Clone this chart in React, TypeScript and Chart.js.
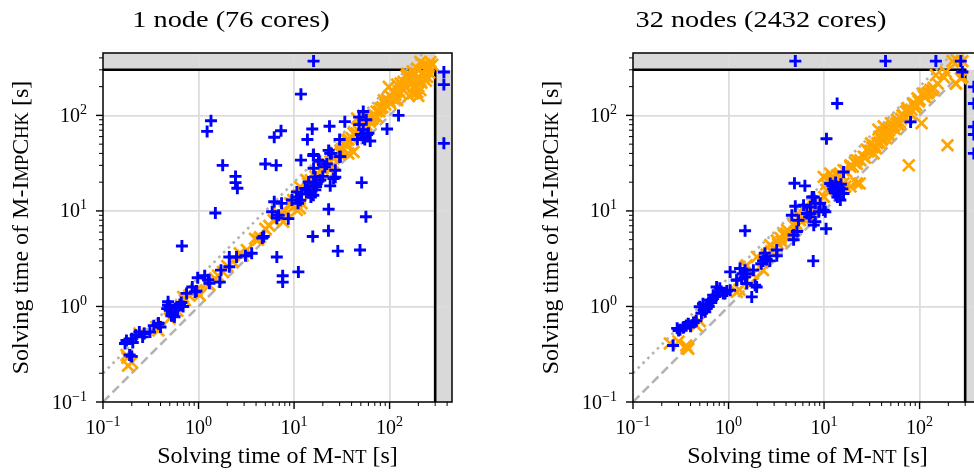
import React, { useEffect, useRef } from "react";
import { Chart, registerables } from "chart.js";

Chart.register(...registerables);

// ---------- data ----------
const AXIS_MIN = 0.1;
const AXIS_MAX = 450;
const TIMEOUT = 300;
const decadeExponents = [-1, 0, 1, 2];
const minorMultipliers = [2, 3, 4, 5, 6, 7, 8, 9];
const panelTitles = ["1 node (76 cores)", "32 nodes (2432 cores)"];

type P = [number, number];

const leftBlue: P[] = [
  [16, 370], [370, 285], [370, 210], [370, 51],
  [11.8, 167], [124, 100], [94, 72], [1.35, 88], [1.23, 68], [1.79, 30], [2.44, 23], [2.44, 19.8], [2.55, 17.3],
  [1.5, 9.5], [0.67, 4.3], [5.0, 31], [6.5, 30], [6.2, 59], [7.3, 69], [6.6, 3.3], [7.6, 2.1], [7.6, 1.8],
  [11.1, 2.3], [15.7, 5.4], [22.9, 6.2], [23, 10.4], [28.7, 3.8], [49, 3.9], [51, 19.8], [56.5, 8.7], [62.7, 54],
  [23.5, 77], [34, 86], [13.8, 56], [15.5, 72], [11.8, 34], [16, 39], [18.4, 33], [16, 28], [30, 56], [30, 37],
  [23.9, 40], [23.9, 18.3], [27, 22.5], [21, 29],
  [48, 96], [53, 110], [57, 90], [48, 80], [53, 71], [50, 63], [58, 63], [55, 56], [46, 56], [60, 65], [53, 58],
  [9.5, 13], [10.7, 14], [13.6, 16.6], [15, 14], [16, 19.5], [16.7, 16.6], [18.8, 21], [20, 23], [14.5, 15.5],
  [11, 12], [12, 15], [17, 18], [10.7, 15.8], [11.6, 12.9], [13.1, 17.2], [15.9, 14.6], [14.2, 20.1], [16.6, 22.7],
  [17.3, 19.4], [22, 31], [25.9, 21.8], [27, 26.7], [15.9, 38], [18, 34], [24.6, 40], [30.5, 37], [23, 43],
  [6.2, 12.5], [7.4, 12], [5.9, 9.8], [6.9, 9], [8.7, 8.3], [6.6, 8.4],
  [4.65, 5.2], [4.8, 5.4], [3.6, 3.6], [3.1, 3.4], [2.5, 3.3], [2.1, 2.6], [2.1, 3.3],
  [1.72, 2.4], [1.67, 1.8], [1.26, 1.9], [1.16, 2.1], [1.3, 1.75], [0.98, 2.0],
  [0.86, 1.6], [0.95, 1.45], [0.75, 1.37], [0.92, 1.42], [0.66, 1.1], [0.69, 1.0], [0.6, 0.92],
  [0.48, 1.12], [0.5, 1.0], [0.54, 0.88], [0.56, 0.78], [0.52, 0.8], [0.6, 0.95], [0.47, 0.95], [0.64, 1.05],
  [0.55, 0.92], [0.48, 1.03], [0.5, 0.91], [0.57, 0.95], [0.54, 0.81],
  [0.38, 0.67], [0.34, 0.63], [0.4, 0.61], [0.38, 0.66],
  [0.27, 0.52], [0.22, 0.5], [0.24, 0.54], [0.2, 0.46], [0.26, 0.48], [0.31, 0.54],
  [0.176, 0.44], [0.205, 0.42], [0.17, 0.41], [0.19, 0.31], [0.2, 0.3],
];

const leftOrange: P[] = [
  [0.176, 0.31], [0.183, 0.24], [0.2, 0.26], [0.18, 0.29], [0.38, 0.56], [0.69, 1.26], [1.03, 1.31],
  [0.24, 0.52], [0.36, 0.61], [0.5, 0.75], [0.72, 1.16], [0.8, 1.3], [0.6, 0.9],
  [0.95, 1.48], [1.22, 1.74], [1.49, 1.96], [1.3, 1.67], [1.6, 2.1], [1.8, 2.3], [2.0, 2.65], [2.3, 2.95],
  [2.7, 3.6], [2.9, 3.4], [3.2, 3.9], [3.9, 5.1], [4.4, 5.3], [4.2, 5.0], [5, 6.5], [5.5, 7], [7, 9.3], [8, 10],
  [6.1, 8.0], [6.9, 8.7], [7.7, 7.7], [8.4, 9.4], [10.7, 10.2], [9.5, 11.9], [11.1, 14.6], [11.6, 17.8],
  [13.6, 20.9], [17.3, 22.7], [19.6, 27.8], [22, 31], [25.9, 35.4], [30.5, 40], [37, 40], [42, 41.5],
  [25.9, 24.6], [11.5, 10.7], [12, 12], [10.6, 11.6], [9.1, 12], [9.8, 13], [14, 19.5], [16.7, 23], [12.5, 16],
  [15, 21], [18, 24], [20, 28], [24, 33], [27, 38], [32, 45], [36, 50], [40, 58], [44, 62], [48, 68],
  [52, 72], [57, 80], [62, 86], [66, 92], [70, 100], [78, 110], [84, 122], [90, 130], [100, 140],
  [108, 150], [115, 165], [125, 180], [135, 190], [140, 225], [160, 250], [185, 270], [220, 280],
  [255, 330], [280, 340], [230, 340], [185, 230], [215, 220], [240, 230], [260, 280], [195, 175], [170, 215],
  [25.9, 30], [30.5, 43], [35.8, 55], [42, 65], [45.6, 93], [53, 100], [49, 76], [58, 73], [63, 89],
  [80, 118], [87, 144], [98, 199], [110, 176], [120, 144], [130, 216], [153, 275], [165, 234], [194, 310],
  [210, 363], [268, 363], [238, 297], [179, 199], [202, 234], [247, 253], [210, 184], [130, 170], [102, 133],
  [74, 96], [34.5, 49], [37, 56], [45, 65], [55, 77], [68, 97], [73, 110], [150, 260], [175, 290], [190, 200],
  [175, 170], [230, 260], [200, 160], [160, 160], [145, 200], [120, 210], [94, 146], [102, 159],
];

const rightBlue: P[] = [
  [5.0, 370], [44, 370], [148, 370], [270, 370], [280, 285],
  [370, 199], [370, 133], [370, 76], [370, 63], [370, 40],
  [13.7, 133], [10.6, 57], [80.5, 85.5], [16, 25.6], [4.9, 19.5], [6.3, 18.3], [1.49, 6.2], [7.7, 3.0],
  [10.5, 6.5], [1.75, 1.26], [1.97, 1.6],
  [11.6, 19.4], [12.5, 17], [13, 15.5], [13.5, 18], [14, 16.5], [14.5, 17.5], [15, 19], [16, 15.2],
  [13.8, 14], [12.8, 16.2], [14.8, 13], [15.5, 17], [12.2, 18.3], [13.2, 19.8],
  [5.0, 11.2], [7.5, 14], [6.1, 11.5], [4.6, 9.0], [5.4, 8.0], [7.2, 9.4], [8.1, 7.7], [10.3, 9.8],
  [7.8, 14], [7.2, 11], [8.1, 12], [9.1, 12], [9.9, 10.2], [6.6, 9.4], [7, 8.7], [7.8, 7.1], [8.8, 9.8],
  [4.8, 5.6], [5.2, 6.1], [4.8, 5.0],
  [2.4, 3.6], [2.3, 3.0], [2.7, 3.0], [3.2, 3.4], [2.5, 3.1], [2.2, 2.8], [3.2, 3.9], [2.4, 3.3],
  [1.04, 2.3], [1.32, 2.5], [1.22, 1.88], [1.49, 2.04], [1.55, 1.74], [1.9, 1.67], [1.37, 1.95],
  [1.55, 2.2], [1.22, 1.9], [1.49, 2.4], [1.82, 2.4], [1.4, 2.2],
  [0.75, 1.6], [0.88, 1.37], [0.69, 1.31], [0.81, 1.55], [0.96, 1.45], [0.92, 1.37], [0.81, 1.42], [1.04, 1.48],
  [0.5, 0.995], [0.54, 1.07], [0.59, 0.95], [0.64, 1.16], [0.69, 1.21], [0.75, 1.31], [0.57, 0.88],
  [0.52, 0.85], [0.62, 1.0], [0.66, 1.1], [0.55, 0.92], [0.6, 1.05],
  [0.3, 0.56], [0.335, 0.6], [0.38, 0.66], [0.43, 0.68], [0.46, 0.71], [0.36, 0.63], [0.31, 0.57],
  [0.29, 0.59], [0.34, 0.61], [0.4, 0.62],
  [0.263, 0.39],
];

const rightOrange: P[] = [
  [0.243, 0.41], [0.36, 0.39], [0.37, 0.37], [0.38, 0.36], [0.46, 0.63], [0.3, 0.43], [0.5, 0.7],
  [1.22, 1.42], [1.68, 1.73], [1.5, 2.6], [2.3, 2.4], [1.55, 2.7], [1.98, 3.3], [2.73, 4.4], [3.2, 4.9],
  [1.8, 2.2], [1.3, 1.5], [2.5, 3.5], [2.8, 3.8], [3.3, 4.5], [3.6, 4.8], [4.3, 6.0], [4.5, 5.5],
  [5.0, 7.5], [5.3, 7.0], [6.0, 8.5], [6.3, 9.0], [7.0, 9.5], [7.5, 10.5], [8.5, 12], [8.0, 11.5], [10, 14],
  [10.5, 19], [11, 21], [12.5, 22.5], [14, 21], [15, 24], [17, 26], [20, 29], [21, 32], [24, 34], [27, 36],
  [29, 42], [32, 46], [38, 52], [41, 57], [43, 62], [47, 64], [50, 74], [54, 78], [57, 82], [60, 80],
  [64, 92], [70, 95], [76, 108], [82, 115], [92, 128], [98, 140], [115, 155], [125, 175], [140, 195],
  [3.8, 5.6], [4.1, 6.3], [4.8, 7.1], [5.6, 8.7], [6.6, 9.8], [7.8, 11], [9.1, 12.9], [10.7, 16.5],
  [11.6, 20.9], [13.7, 23.6], [16, 26.7], [18.9, 30], [22, 34], [26, 37], [33, 40], [9.9, 22.7],
  [11.6, 24.6], [16, 19.4], [18.9, 18], [23.6, 19.4], [22, 19.5], [3.0, 4.0], [3.5, 5.2], [4.0, 5.8],
  [5.6, 8.0], [6.6, 9.4], [9.1, 11], [12, 22], [13.5, 19.5], [16.7, 18],
  [18.9, 29], [22, 31], [30.6, 43], [36, 51], [39, 60], [46, 67], [52, 76], [58, 89], [66, 100],
  [74, 118], [87, 133], [95, 150], [111, 169], [136, 184], [148, 264], [188, 285], [239, 216], [281, 253],
  [196, 48.7], [77, 30], [221, 370], [250, 370], [281, 370], [105, 83], [130, 185], [155, 215], [180, 250],
  [42, 77], [50, 83], [68, 100], [100, 145], [28, 44], [31, 51], [37, 71], [46, 63], [58, 90], [72, 110],
  [86, 130], [110, 160], [240, 215], [270, 245], [34, 48], [40, 55], [44, 58], [48, 70], [55, 72], [62, 85],
  [80, 105], [90, 120], [120, 170], [35, 45],
];

const identityLine: P[] = [[AXIS_MIN, AXIS_MIN], [TIMEOUT, TIMEOUT]];
const doubleLine: P[] = [[AXIS_MIN, 2 * AXIS_MIN], [AXIS_MAX / 2, AXIS_MAX]];

// ---------- drawing helpers ----------
const FONT = "'Liberation Serif', 'Times New Roman', serif";
type Seg = { t: string; s: number; dy?: number };

function segsWidth(ctx: CanvasRenderingContext2D, segs: Seg[]) {
  let w = 0;
  for (const g of segs) {
    ctx.font = `${g.s}px ${FONT}`;
    w += ctx.measureText(g.t).width;
  }
  return w;
}

function drawSegs(
  ctx: CanvasRenderingContext2D,
  segs: Seg[],
  x: number,
  y: number,
  align: "left" | "center" | "right",
  sx = 1,
  rotate = 0
) {
  const w = segsWidth(ctx, segs) * sx;
  ctx.save();
  ctx.translate(x, y);
  if (rotate) ctx.rotate(rotate);
  const start = align === "center" ? -w / 2 : align === "right" ? -w : 0;
  ctx.translate(start, 0);
  ctx.scale(sx, 1);
  ctx.fillStyle = "#000";
  ctx.textAlign = "left";
  ctx.textBaseline = "alphabetic";
  let px = 0;
  for (const g of segs) {
    ctx.font = `${g.s}px ${FONT}`;
    ctx.fillText(g.t, px, g.dy || 0);
    px += ctx.measureText(g.t).width;
  }
  ctx.restore();
}

function tickLabel(e: number): Seg[] {
  return [
    { t: "10", s: 20 },
    { t: e < 0 ? "\u2212" + Math.abs(e) : String(e), s: 14, dy: -8 },
  ];
}

const BIG = 24;
const SC = 18.5;
const xTitle: Seg[] = [
  { t: "Solving time of M-", s: BIG },
  { t: "NT", s: SC },
  { t: " [s]", s: BIG },
];
const yTitle: Seg[] = [
  { t: "Solving time of M-I", s: BIG },
  { t: "MP", s: SC },
  { t: "C", s: BIG },
  { t: "HK", s: SC },
  { t: " [s]", s: BIG },
];

function isDecade(v: number) {
  const l = Math.log10(v);
  return Math.abs(l - Math.round(l)) < 1e-6;
}

const decorPlugin = {
  id: "decor",
  beforeDraw(chart: any) {
    const { ctx, chartArea: a, scales } = chart;
    const px = scales.x.getPixelForValue(TIMEOUT);
    const py = scales.y.getPixelForValue(TIMEOUT);
    ctx.save();
    ctx.fillStyle = "#d9d9d9";
    ctx.fillRect(a.left, a.top, px - a.left, py - a.top);
    ctx.fillRect(px, py, a.right - px, a.bottom - py);
    ctx.restore();
  },
  beforeDatasetsDraw(chart: any) {
    const { ctx, chartArea: a, scales } = chart;
    const px = scales.x.getPixelForValue(TIMEOUT);
    const py = scales.y.getPixelForValue(TIMEOUT);
    ctx.save();
    ctx.strokeStyle = "#000";
    ctx.lineWidth = 2.6;
    ctx.beginPath();
    ctx.moveTo(a.left, py);
    ctx.lineTo(px, py);
    ctx.moveTo(px, a.bottom);
    ctx.lineTo(px, py - 1.3);
    ctx.stroke();
    ctx.restore();
  },
  afterDraw(chart: any, _args: any, opts: any) {
    const { ctx, chartArea: a, scales } = chart;
    const xs = scales.x;
    const ys = scales.y;
    ctx.save();
    // frame
    ctx.strokeStyle = "#000";
    ctx.lineWidth = 1.5;
    ctx.strokeRect(a.left, a.top, a.right - a.left, a.bottom - a.top);
    // ticks
    const vals: number[] = [];
    for (const e of decadeExponents) {
      vals.push(Math.pow(10, e));
      for (const m of minorMultipliers) {
        const v = m * Math.pow(10, e);
        if (v <= AXIS_MAX) vals.push(v);
      }
    }
    for (const v of vals) {
      const major = isDecade(v);
      const len = major ? 7 : 4;
      ctx.lineWidth = major ? 1.4 : 1;
      const x = xs.getPixelForValue(v);
      ctx.beginPath();
      ctx.moveTo(x, a.bottom);
      ctx.lineTo(x, a.bottom + len);
      ctx.stroke();
      const y = ys.getPixelForValue(v);
      ctx.beginPath();
      ctx.moveTo(a.left, y);
      ctx.lineTo(a.left - len, y);
      ctx.stroke();
    }
    ctx.restore();
    // tick labels
    for (const e of decadeExponents) {
      const v = Math.pow(10, e);
      drawSegs(ctx, tickLabel(e), xs.getPixelForValue(v), a.bottom + 31.5, "center");
      drawSegs(ctx, tickLabel(e), a.left - 16, ys.getPixelForValue(v) + 6.5, "right");
    }
    // axis titles
    drawSegs(ctx, xTitle, (a.left + a.right) / 2, a.bottom + 61, "center");
    drawSegs(ctx, yTitle, a.left - 75, (a.top + a.bottom) / 2, "center", 1, -Math.PI / 2);
    // panel title
    drawSegs(ctx, [{ t: opts.title, s: 24 }], a.left + 128, 27, "center", 1.18);
  },
};

function toXY(arr: P[]) {
  return arr.map(([x, y]) => ({ x, y }));
}

function Panel({ blue, orange, title, left }: { blue: P[]; orange: P[]; title: string; left: number }) {
  const ref = useRef<HTMLCanvasElement | null>(null);
  useEffect(() => {
    if (!ref.current) return;
    const gridColor = (c: any) => {
      const v = c.tick && c.tick.value;
      if (!v) return "rgba(0,0,0,0)";
      return isDecade(v) && v > 0.15 && v < 150 ? "#dcdcdc" : "rgba(0,0,0,0)";
    };
    const axis = {
      type: "logarithmic" as const,
      min: AXIS_MIN,
      max: AXIS_MAX,
      ticks: { display: false },
      grid: { drawTicks: false, color: gridColor, lineWidth: 1.8 },
      border: { display: false },
    };
    const chart = new Chart(ref.current, {
      type: "scatter",
      data: {
        datasets: [
          {
            data: toXY(blue),
            pointStyle: "cross",
            radius: 6,
            borderWidth: 2.9,
            borderColor: "#0000ff",
            backgroundColor: "#0000ff",
          },
          {
            data: toXY(orange),
            pointStyle: "crossRot",
            radius: 8.2,
            borderWidth: 2.7,
            borderColor: "#ffa500",
            backgroundColor: "#ffa500",
          },
          {
            data: toXY(doubleLine),
            showLine: true,
            pointRadius: 0,
            borderColor: "#b3b3b3",
            borderWidth: 2.6,
            borderDash: [2.6, 4.2],
          },
          {
            data: toXY(identityLine),
            showLine: true,
            pointRadius: 0,
            borderColor: "#b3b3b3",
            borderWidth: 2.6,
            borderDash: [9, 4.5],
          },
        ],
      },
      options: {
        animation: false,
        responsive: false,
        maintainAspectRatio: false,
        events: [],
        layout: { padding: { left: 103, right: 35, top: 53, bottom: 71 } },
        plugins: {
          legend: { display: false },
          tooltip: { enabled: false },
          decor: { title },
        } as any,
        scales: { x: axis, y: axis },
      },
      plugins: [decorPlugin],
    });
    return () => chart.destroy();
  }, [blue, orange, title]);
  return (
    <canvas
      ref={ref}
      width={487}
      height={473}
      style={{ position: "absolute", left, top: 0, width: 487, height: 473, display: "block" }}
    />
  );
}

export default function App() {
  return (
    <div
      style={{
        position: "absolute",
        left: 0,
        top: 0,
        width: 974,
        height: 473,
        overflow: "hidden",
        background: "#fff",
      }}
    >
      <Panel blue={leftBlue} orange={leftOrange} title={panelTitles[0]} left={0} />
      <Panel blue={rightBlue} orange={rightOrange} title={panelTitles[1]} left={530} />
    </div>
  );
}
